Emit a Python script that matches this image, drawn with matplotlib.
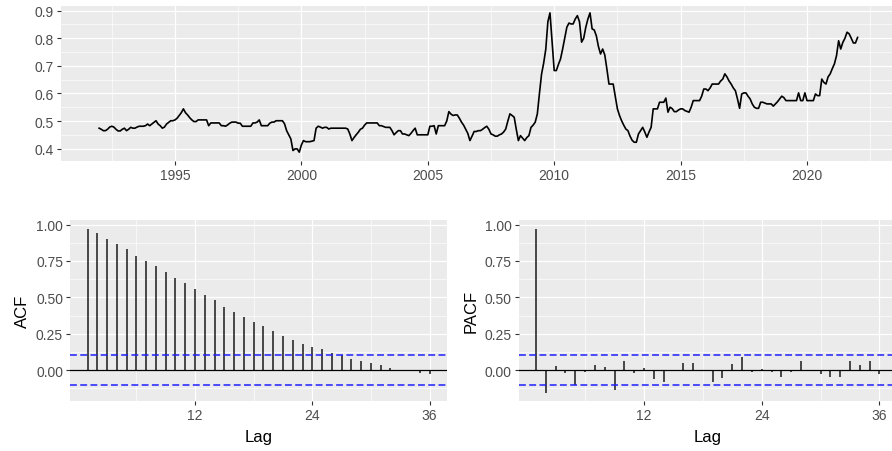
import numpy as np
import matplotlib.pyplot as plt
from matplotlib.ticker import FixedLocator

plt.rcParams['font.family'] = ['Liberation Sans', 'DejaVu Sans']

# monthly series, Jan 1992 .. Jan 2022
y1992 = [0.474, 0.470, 0.465, 0.465, 0.470, 0.478, 0.481, 0.478, 0.470, 0.464, 0.464, 0.470]
y1993 = [0.474, 0.465, 0.470, 0.477, 0.474, 0.474, 0.478, 0.481, 0.481, 0.481, 0.483, 0.489]
y1994 = [0.483, 0.489, 0.495, 0.501, 0.489, 0.483, 0.474, 0.478, 0.489, 0.495, 0.501, 0.501]
y1995 = [0.504, 0.510, 0.520, 0.530, 0.544, 0.530, 0.522, 0.512, 0.504, 0.498, 0.498, 0.504]
y1996 = [0.504, 0.504, 0.504, 0.504, 0.483, 0.493, 0.493, 0.493, 0.493, 0.493, 0.483, 0.483]
y1997 = [0.481, 0.486, 0.492, 0.496, 0.496, 0.496, 0.492, 0.492, 0.481, 0.481, 0.481, 0.481]
y1998 = [0.481, 0.493, 0.493, 0.496, 0.504, 0.483, 0.483, 0.483, 0.483, 0.492, 0.496, 0.496]
y1999 = [0.501, 0.501, 0.501, 0.501, 0.490, 0.465, 0.450, 0.435, 0.393, 0.399, 0.399, 0.387]
y2000 = [0.413, 0.429, 0.425, 0.425, 0.425, 0.427, 0.429, 0.474, 0.481, 0.478, 0.474, 0.477]
y2001 = [0.477, 0.471, 0.474, 0.474, 0.474, 0.474, 0.474, 0.474, 0.474, 0.474, 0.471, 0.453]
y2002 = [0.429, 0.440, 0.450, 0.459, 0.470, 0.474, 0.485, 0.493, 0.493, 0.493, 0.493, 0.493]
y2003 = [0.493, 0.483, 0.483, 0.480, 0.477, 0.477, 0.477, 0.465, 0.450, 0.458, 0.465, 0.465]
y2004 = [0.453, 0.453, 0.450, 0.447, 0.455, 0.465, 0.474, 0.450, 0.450, 0.450, 0.450, 0.450]
y2005 = [0.450, 0.481, 0.481, 0.483, 0.453, 0.483, 0.483, 0.483, 0.483, 0.500, 0.534, 0.525]
y2006 = [0.520, 0.522, 0.522, 0.510, 0.496, 0.485, 0.470, 0.455, 0.429, 0.445, 0.462, 0.462]
y2007 = [0.465, 0.465, 0.470, 0.476, 0.481, 0.470, 0.453, 0.450, 0.445, 0.445, 0.450, 0.453]
y2008 = [0.460, 0.471, 0.500, 0.526, 0.520, 0.514, 0.470, 0.429, 0.447, 0.438, 0.429, 0.440]
y2009 = [0.447, 0.477, 0.485, 0.496, 0.526, 0.600, 0.670, 0.710, 0.760, 0.860, 0.892, 0.786]
y2010 = [0.683, 0.683, 0.705, 0.725, 0.761, 0.800, 0.840, 0.855, 0.852, 0.852, 0.870, 0.882]
y2011 = [0.860, 0.786, 0.800, 0.840, 0.870, 0.892, 0.834, 0.830, 0.809, 0.770, 0.743, 0.761]
y2012 = [0.740, 0.689, 0.634, 0.634, 0.634, 0.590, 0.544, 0.520, 0.501, 0.485, 0.471, 0.465]
y2013 = [0.445, 0.430, 0.423, 0.423, 0.453, 0.465, 0.477, 0.460, 0.441, 0.460, 0.477, 0.544]
y2014 = [0.544, 0.544, 0.568, 0.568, 0.568, 0.583, 0.532, 0.550, 0.545, 0.534, 0.534, 0.540]
y2015 = [0.544, 0.544, 0.538, 0.535, 0.532, 0.550, 0.574, 0.574, 0.574, 0.574, 0.590, 0.616]
y2016 = [0.616, 0.610, 0.620, 0.634, 0.634, 0.634, 0.634, 0.645, 0.652, 0.671, 0.660, 0.645]
y2017 = [0.634, 0.620, 0.610, 0.580, 0.546, 0.598, 0.602, 0.602, 0.590, 0.580, 0.562, 0.550]
y2018 = [0.546, 0.546, 0.568, 0.568, 0.565, 0.562, 0.562, 0.562, 0.554, 0.562, 0.570, 0.580]
y2019 = [0.590, 0.585, 0.574, 0.574, 0.574, 0.574, 0.574, 0.574, 0.602, 0.574, 0.574, 0.602]
y2020 = [0.574, 0.574, 0.574, 0.574, 0.598, 0.592, 0.592, 0.652, 0.640, 0.634, 0.660, 0.671]
y2021 = [0.690, 0.707, 0.737, 0.791, 0.761, 0.785, 0.800, 0.822, 0.816, 0.800, 0.783, 0.783]
y2022 = [0.803]

series = (y1992 + y1993 + y1994 + y1995 + y1996 + y1997 + y1998 + y1999 + y2000
          + y2001 + y2002 + y2003 + y2004 + y2005 + y2006 + y2007 + y2008 + y2009
          + y2010 + y2011 + y2012 + y2013 + y2014 + y2015 + y2016 + y2017 + y2018
          + y2019 + y2020 + y2021 + y2022)
t = 1992 + np.arange(len(series)) / 12

lags = np.arange(1, 37)
acf = [0.970, 0.940, 0.901, 0.869, 0.830, 0.787, 0.752, 0.713, 0.677, 0.635,
       0.596, 0.557, 0.518, 0.482, 0.436, 0.401, 0.362, 0.328, 0.300, 0.268,
       0.236, 0.206, 0.181, 0.161, 0.142, 0.119, 0.103, 0.073, 0.064, 0.050,
       0.034, 0.011, 0.003, -0.010, -0.020, -0.025]
pacf = [0.970, -0.161, 0.030, -0.021, -0.101, -0.011, 0.037, 0.018, -0.138, 0.064,
        -0.021, 0.011, -0.062, -0.085, 0.002, 0.048, 0.050, 0.001, -0.085, -0.055,
        0.041, 0.087, -0.011, 0.009, -0.014, -0.046, -0.011, 0.064, 0.001, -0.028,
        -0.046, -0.046, 0.064, 0.034, 0.064, -0.028]
ci = 1.96 / np.sqrt(len(series))

W, H = 892, 452
fig = plt.figure(figsize=(W / 100, H / 100), dpi=100)


def px_axes(left, top, right, bottom):
    return fig.add_axes([left / W, 1 - bottom / H, (right - left) / W, (bottom - top) / H])


def gg_style(ax, major_x, minor_x, major_y, minor_y):
    ax.set_facecolor('#EBEBEB')
    for s in ax.spines.values():
        s.set_visible(False)
    ax.xaxis.set_major_locator(FixedLocator(major_x))
    ax.xaxis.set_minor_locator(FixedLocator(minor_x))
    ax.yaxis.set_major_locator(FixedLocator(major_y))
    ax.yaxis.set_minor_locator(FixedLocator(minor_y))
    ax.grid(which='major', color='white', linewidth=0.9)
    ax.grid(which='minor', color='white', linewidth=0.45)
    ax.set_axisbelow(True)
    ax.tick_params(which='major', length=2.8, width=0.8, color='#333333',
                   labelcolor='#4D4D4D', labelsize=10, pad=2.5)
    ax.tick_params(which='minor', length=0)


# time series panel
ax0 = px_axes(61.2, 7, 895.5, 162)
ax0.plot(t, series, color='black', lw=1.2)
ax0.set_xlim(1990.5, 2023.5)
ax0.set_ylim(0.355, 0.917)
gg_style(ax0, [1995, 2000, 2005, 2010, 2015, 2020],
         [1992.5, 1997.5, 2002.5, 2007.5, 2012.5, 2017.5, 2022.5],
         [0.4, 0.5, 0.6, 0.7, 0.8, 0.9], [0.45, 0.55, 0.65, 0.75, 0.85])
ax0.yaxis.set_major_formatter(lambda v, p: f'{v:.1f}')


def corr_panel(ax, vals, name):
    ax.vlines(lags, 0, vals, color='#1A1A1A', lw=1.1)
    ax.axhline(0, color='black', lw=0.9)
    for c in (ci, -ci):
        ax.axhline(c, color='#2020FF', lw=1.1, dashes=(4.5, 2.2))
    ax.set_xlim(-0.75, 37.75)
    ax.set_ylim(-0.211, 1.032)
    gg_style(ax, [12, 24, 36], [6, 18, 30],
             [0, 0.25, 0.5, 0.75, 1.0], [-0.125, 0.125, 0.375, 0.625, 0.875])
    ax.yaxis.set_major_formatter(lambda v, p: f'{v:.2f}')
    ax.set_xlabel('Lag', fontsize=12, color='black', labelpad=5)
    ax.set_ylabel(name, fontsize=12, color='black', labelpad=4)


ax1 = px_axes(70.4, 221, 446.7, 401.7)
corr_panel(ax1, acf, 'ACF')
ax2 = px_axes(518.9, 221, 896.6, 401.7)
corr_panel(ax2, pacf, 'PACF')

fig.savefig('out.png', dpi=100)
